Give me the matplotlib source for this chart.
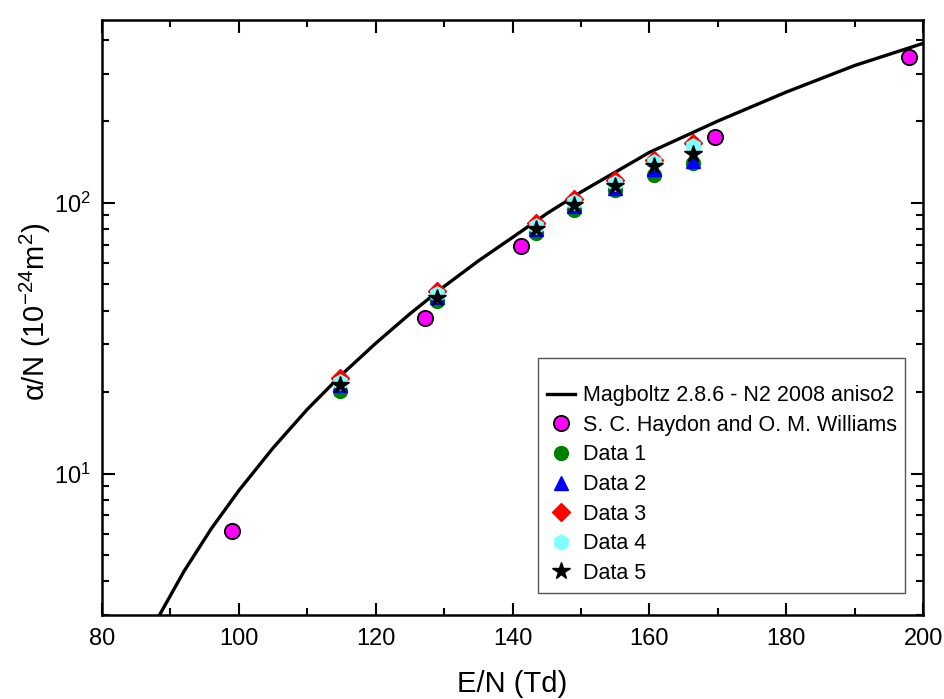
import matplotlib
matplotlib.use("Agg")
import matplotlib.pyplot as plt
from matplotlib.ticker import LogLocator, MultipleLocator, NullFormatter

plt.rcParams['font.family'] = ['Liberation Sans', 'DejaVu Sans']
plt.rcParams['mathtext.fontset'] = 'custom'
plt.rcParams['mathtext.rm'] = 'Liberation Sans'
plt.rcParams['mathtext.it'] = 'Liberation Sans:italic'
plt.rcParams['mathtext.default'] = 'regular'

# Magboltz curve
curve_x = [88.4, 92, 96, 100, 105, 110, 115, 120, 125, 130, 135, 140,
           145, 150, 160, 170, 180, 190, 200]
curve_y = [3.00, 4.36, 6.27, 8.65, 12.43, 17.26, 23.15, 30.27, 38.9, 49.1,
           61.0, 74.5, 91.2, 109.6, 153.5, 200.4, 256.4, 321.4, 388.0]

# S. C. Haydon and O. M. Williams
hay_x = [99.0, 127.2, 141.2, 169.6, 197.9]
hay_y = [6.15, 37.4, 69.3, 175.0, 345.0]

# Measurement series
data_x = [114.8, 129.0, 143.4, 149.0, 154.9, 160.7, 166.3]
data1_y = [20.1, 43.5, 77.0, 94.0, 111.0, 127.0, 140.0]
data2_y = [21.2, 45.0, 80.0, 97.0, 113.0, 133.0, 143.0]
data3_y = [22.6, 47.2, 84.5, 103.5, 121.0, 144.0, 166.0]
data4_y = [21.8, 46.0, 82.0, 101.0, 118.0, 141.0, 162.0]
data5_y = [21.3, 44.6, 80.0, 98.0, 115.0, 137.0, 152.0]

fig = plt.figure(figsize=(9.44, 6.99), dpi=100)
ax = fig.add_axes([0.108, 0.120, 0.870, 0.851])

ax.plot(curve_x, curve_y, color='black', lw=2.4, label='Magboltz 2.8.6 - N2 2008 aniso2', zorder=2)
ax.plot(hay_x, hay_y, 'o', color='#ff00ff', mec='black', mew=1.3, ms=11, ls='none',
        label='S. C. Haydon and O. M. Williams', zorder=3)
ax.plot(data_x, data1_y, 'o', color='#008000', mec='#008000', ms=10, ls='none', label='Data 1', zorder=3)
ax.plot(data_x, data2_y, '^', color='#0000ff', mec='#0000ff', ms=10.5, ls='none', label='Data 2', zorder=3)
ax.plot(data_x, data3_y, 'D', color='#ff0000', mec='#ff0000', ms=9.5, ls='none', label='Data 3', zorder=3)
ax.plot(data_x, data4_y, 'h', color='#80ffff', mec='#80ffff', ms=11, ls='none', label='Data 4', zorder=3)
ax.plot(data_x, data5_y, '*', color='black', mec='black', ms=13, ls='none', label='Data 5', zorder=3)

ax.set_yscale('log')
ax.set_xlim(80, 200)
ax.set_ylim(3.0, 472)

ax.xaxis.set_major_locator(MultipleLocator(20))
ax.xaxis.set_minor_locator(MultipleLocator(10))
ax.yaxis.set_major_locator(LogLocator(base=10, numticks=10))
ax.yaxis.set_minor_locator(LogLocator(base=10, subs=range(2, 10), numticks=20))
ax.yaxis.set_minor_formatter(NullFormatter())

ax.tick_params(which='both', direction='in', top=True, right=True, width=1.5, labelsize=17)
ax.tick_params(which='major', length=9)
ax.tick_params(which='minor', length=5)
ax.tick_params(axis='x', pad=9)
ax.tick_params(axis='y', pad=8)
for s in ax.spines.values():
    s.set_linewidth(1.8)

ax.set_xlabel('E/N (Td)', fontsize=21, labelpad=15)
ax.set_ylabel(r'$\alpha$/N (10$^{-24}$m$^2$)', fontsize=21, labelpad=0)
ax.yaxis.set_label_coords(-0.060, 0.51)

leg = ax.legend(loc='lower right', bbox_to_anchor=(0.978, 0.038), fontsize=15.5,
                frameon=True, fancybox=False, edgecolor='#555555', framealpha=1,
                title=' ', title_fontsize=7, handlelength=1.3, handletextpad=0.35,
                labelspacing=0.4, borderpad=0.4, borderaxespad=0)
leg.get_frame().set_linewidth(1.0)

fig.savefig('out.png', dpi=100)
